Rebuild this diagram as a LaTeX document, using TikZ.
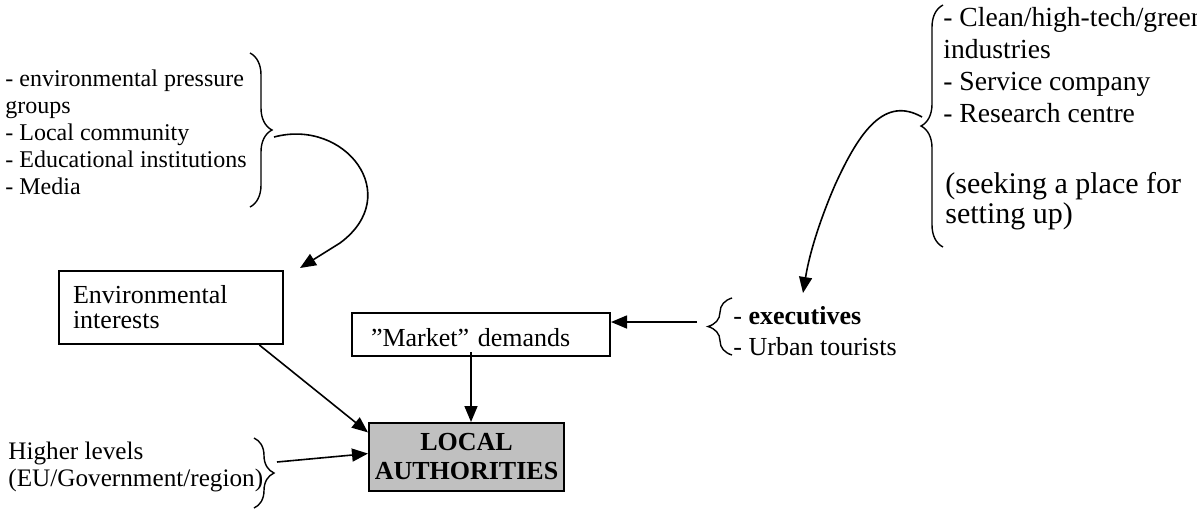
\documentclass[tikz,border=0pt]{standalone}
\usepackage{fontspec}
\setmainfont{Liberation Serif}
\usetikzlibrary{arrows.meta}
\usetikzlibrary{decorations.pathreplacing}
\usetikzlibrary{calc}
\definecolor{lagray}{RGB}{192,192,192}

\begin{document}
\begin{tikzpicture}[x=0.5pt,y=-0.5pt,
  box/.style={draw,line width=1pt,inner sep=0pt},
  lst/.style={inner sep=0pt,anchor=north west,align=left},
  brc/.style={decorate,decoration={brace,amplitude=#1},line width=0.7pt},
  arr/.style={-{Triangle[length=8pt,width=6.5pt]},line width=0.8pt}]
\useasboundingbox (0,0) rectangle (1197,510);

% actors on the left
\node[lst,font=\fontsize{12}{13.5}\selectfont] (grp) at (5,69) {- environmental pressure\\groups\\- Local community\\- Educational institutions\\- Media};
\draw[brc=11pt] (250,53) -- (250,207);
\coordinate (grptip) at (274,137);
\coordinate (envin) at (300,268);
\draw[arr] (grptip) .. controls (345,118) and (405,195) .. (340,243) -- (envin);

% boxes
\node[box,anchor=north west,minimum width=112pt,minimum height=36.5pt,text width=98pt,inner xsep=7pt,align=left,font=\fontsize{13}{12.5}\selectfont] (env) at (58,270) {Environmental\\interests};
\node[box,anchor=north west,text width=110pt,inner xsep=9.5pt,text height=16.5pt,text depth=5pt,align=left,font=\fontsize{13}{15}\selectfont] (mkt) at (351,312) {”Market” demands};
\node[box,fill=lagray,anchor=north west,minimum width=97.5pt,minimum height=34pt,align=center,font=\fontsize{13}{14.5}\selectfont\bfseries] (la) at (368,422) {LOCAL\\AUTHORITIES};

% higher levels
\node[lst,font=\fontsize{12.6}{13.5}\selectfont] (hl) at (8,442) {Higher levels\\(EU/Government/region)};
\draw[brc=10pt] (254,438) -- (254,508);
\coordinate (hltip) at (277,462);
\draw[arr] (hltip) -- (la.178);

\draw[arr] (env.-23) -- (la.166);
\draw[arr] ($(la.north |- mkt.south)+(4.5,-5)$) -- ($(la.north)+(4.5,0)$);

% market side
\node[lst,font=\fontsize{13}{15.5}\selectfont] (exe) at (733,306) {- \textbf{executives}\\- Urban tourists};
\draw[brc=12pt] (732,355) -- (732,298);
\coordinate (exetip) at (697,322);
\draw[arr] (exetip) -- (exetip -| mkt.east);

\node[lst,font=\fontsize{13.8}{16}\selectfont] (ind) at (943,7) {- Clean/high-tech/green\\industries\\- Service company\\- Research centre};
\node[lst,font=\fontsize{15}{15}\selectfont] (seek) at (945,172) {(seeking a place for\\setting up)};
\draw[brc=11pt] (943,247) -- (943,5);
\coordinate (indtip) at (922,117);
\coordinate (exein) at (803,293);
\draw[arr] (indtip) .. controls (885,96) and (860,130) .. (835,185) .. controls (822,215) and (810,250) .. (exein);

\end{tikzpicture}
\end{document}
